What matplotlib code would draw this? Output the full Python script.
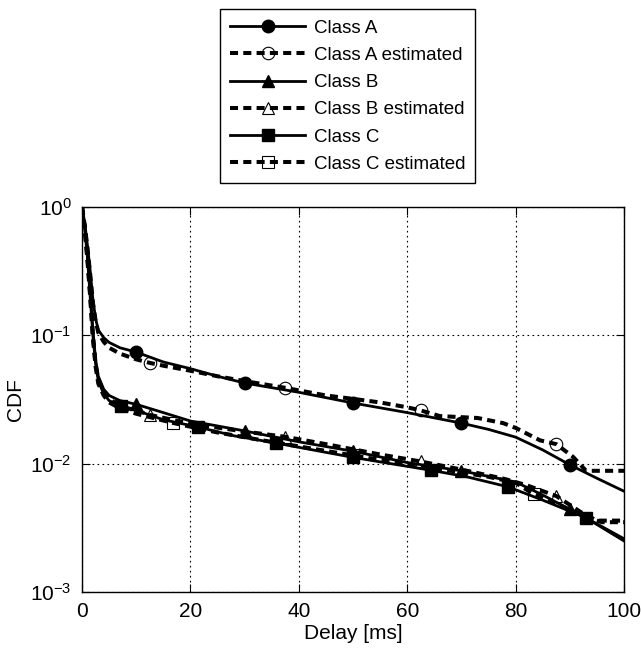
import numpy as np
import matplotlib
matplotlib.use('Agg')
import matplotlib.pyplot as plt

plt.rcParams['font.family'] = ['Liberation Sans', 'DejaVu Sans']
plt.rcParams['mathtext.fontset'] = 'custom'
plt.rcParams['mathtext.rm'] = 'Liberation Sans'
plt.rcParams['mathtext.it'] = 'Liberation Sans:italic'
plt.rcParams['mathtext.bf'] = 'Liberation Sans:bold'

# ---- data (delay in ms, CDF) ----
a_delay = [0, 0.5, 1, 1.5, 2, 2.5, 3, 4, 5, 7, 10, 15, 20, 25, 30, 40, 50,
           60, 70, 75, 80, 85, 90, 95, 100]
a_cdf = [1.0, 0.75, 0.5, 0.32, 0.19, 0.135, 0.11, 0.096, 0.088, 0.080, 0.074,
         0.062, 0.055, 0.048, 0.0425, 0.036, 0.0297, 0.025, 0.0207, 0.0185,
         0.0161, 0.0128, 0.0098, 0.0077, 0.0061]
a_marks = [10, 30, 50, 70, 90]

a_est_delay = [0, 0.5, 1, 1.5, 2, 2.5, 3, 4, 5, 7, 10, 12.5, 15, 20, 25, 30,
               37.5, 45, 50, 55, 60, 62.5, 66, 73, 77.7, 80, 84.5, 87.5, 90.6,
               93, 100]
a_est_cdf = [1.0, 0.72, 0.48, 0.30, 0.18, 0.13, 0.105, 0.089, 0.080, 0.072,
             0.065, 0.061, 0.058, 0.053, 0.048, 0.044, 0.039, 0.034, 0.032,
             0.030, 0.0275, 0.026, 0.0235, 0.0227, 0.0207, 0.019, 0.0152,
             0.0142, 0.0113, 0.0088, 0.0088]
a_est_marks = [12.5, 37.5, 62.5, 87.5]

b_delay = [0, 0.5, 1, 1.5, 2, 2.5, 3, 4, 5, 7, 10, 15, 20, 30, 40, 50, 60,
           70, 80, 85, 90, 95, 100]
b_cdf = [1.0, 0.7, 0.42, 0.22, 0.11, 0.065, 0.048, 0.038, 0.034, 0.031, 0.029,
         0.025, 0.0215, 0.018, 0.0148, 0.0125, 0.0102, 0.0088, 0.0072, 0.0057,
         0.0044, 0.0034, 0.0026]
b_marks = [10, 30, 50, 70, 90]

b_est_delay = [0, 0.5, 1, 1.5, 2, 2.5, 3, 4, 5, 7, 10, 12.5, 20, 30, 37.5, 45,
               55, 62.5, 70, 78, 82, 87.5, 92, 95, 100]
b_est_cdf = [1.0, 0.68, 0.4, 0.21, 0.1, 0.06, 0.045, 0.036, 0.032, 0.028,
             0.026, 0.024, 0.0205, 0.0178, 0.0162, 0.0142, 0.0118, 0.0104,
             0.0090, 0.0076, 0.0068, 0.0056, 0.0042, 0.0036, 0.0036]
b_est_marks = [12.5, 37.5, 62.5, 87.5]

c_delay = [0, 0.5, 1, 1.5, 2, 2.5, 3, 4, 5, 7.14, 10, 15, 21.4, 28, 35.7, 43,
           50, 57, 64.3, 71, 78.6, 85, 92.9, 100]
c_cdf = [1.0, 0.68, 0.40, 0.2, 0.1, 0.06, 0.044, 0.035, 0.031, 0.028, 0.026,
         0.022, 0.0193, 0.0165, 0.0145, 0.0127, 0.0112, 0.0100, 0.0089,
         0.0079, 0.0066, 0.0052, 0.0038, 0.0025]
c_marks = [7.14, 21.4, 35.7, 50, 64.3, 78.6, 92.9]

c_est_delay = [0, 0.5, 1, 1.5, 2, 2.5, 3, 4, 5, 7, 10, 16.7, 25, 33.3, 42, 50,
               58, 66.7, 75, 80, 83.3, 88, 93, 96, 100]
c_est_cdf = [1.0, 0.66, 0.38, 0.2, 0.095, 0.057, 0.042, 0.034, 0.030, 0.027,
             0.0245, 0.0208, 0.0175, 0.0152, 0.0132, 0.0116, 0.0102, 0.0090,
             0.0079, 0.0071, 0.0058, 0.0048, 0.0038, 0.0035, 0.0035]
c_est_marks = [16.7, 50, 83.3]

labels = ['Class A', 'Class A estimated', 'Class B', 'Class B estimated',
          'Class C', 'Class C estimated']

fig = plt.figure(figsize=(6.41, 6.52), dpi=100)
ax = fig.add_axes([0.128, 0.092, 0.8455, 0.5905])

series = [
    (a_delay, a_cdf, a_marks, 'o', False),
    (a_est_delay, a_est_cdf, a_est_marks, 'o', True),
    (b_delay, b_cdf, b_marks, '^', False),
    (b_est_delay, b_est_cdf, b_est_marks, '^', True),
    (c_delay, c_cdf, c_marks, 's', False),
    (c_est_delay, c_est_cdf, c_est_marks, 's', True),
]

for (dx, dy, mk, m, est), lab in zip(series, labels):
    idx = [dx.index(v) for v in mk]
    if est:
        ax.plot(dx, dy, color='black', lw=2.9, dashes=(2.0, 1.3),
                marker=m, markevery=idx, ms=9, mfc='none', mec='black',
                mew=0.8, label=lab)
    else:
        ax.plot(dx, dy, color='black', lw=2.0, marker=m, markevery=idx,
                ms=9, mfc='black', mec='black', label=lab)

ax.set_yscale('log')
ax.set_xlim(0, 100)
ax.set_ylim(1e-3, 1)
ax.set_xticks([0, 20, 40, 60, 80, 100])
ax.set_yticks([1e-3, 1e-2, 1e-1, 1])
ax.minorticks_off()
ax.tick_params(direction='in', top=True, right=True, labelsize=15, length=6,
               pad=7.5)
ax.grid(True, color='black', linestyle=(0, (1.5, 3)), lw=0.8)
ax.set_xlabel('Delay [ms]', fontsize=15, labelpad=2)
ax.set_ylabel('CDF', fontsize=15)
for s in ax.spines.values():
    s.set_linewidth(1.0)

leg = ax.legend(loc='upper left', bbox_to_anchor=(0.343, 0.986),
                bbox_transform=fig.transFigure, fontsize=13.5,
                handlelength=4.0, handletextpad=0.45, labelspacing=0.54,
                borderpad=0.55, borderaxespad=0,
                fancybox=False, framealpha=1, edgecolor='black')
leg.get_frame().set_linewidth(1.0)

fig.savefig('out.png', dpi=100)
